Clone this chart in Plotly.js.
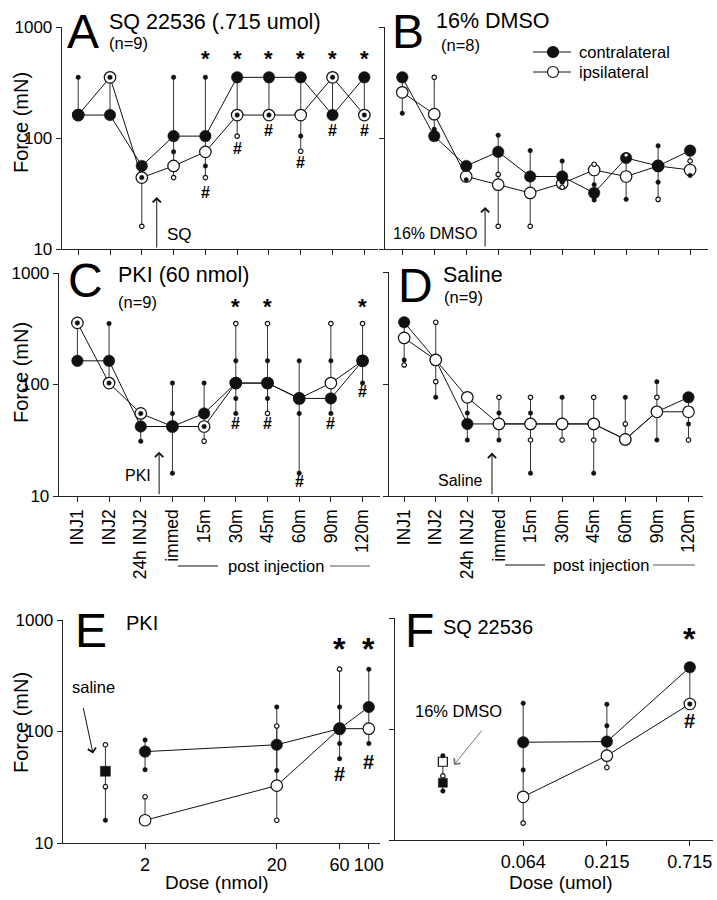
<!DOCTYPE html>
<html><head><meta charset="utf-8">
<script src="https://cdn.plot.ly/plotly-3.0.1.min.js"></script>
<style>body{margin:0;background:#fff}#chart{width:717px;height:900px}</style>
</head><body><div id="chart"></div>
<script>
// ---------------- DATA ----------------
const categories = ['INJ1','INJ2','24h INJ2','immed','15m','30m','45m','60m','90m','120m'];

// Panel A: SQ 22536 (.715 umol)
const contraA = [161,161,56,104,104,352,352,352,161,352];
const ipsiA   = [161,352,44,56,75,161,161,161,352,161];
const filledDotsA = [[0,352],[1,352],[2,44],[3,352],[3,75],[4,352],[4,56],[5,161],[6,161],[7,104],[8,352],[9,161]];
const openDotsA   = [[2,16],[3,44],[4,44],[5,104],[7,76]];
const starsA = [4,5,6,7,8,9];
const hashA  = [[4,32],[5,81],[6,118],[7,60],[8,118],[9,118]];

// Panel B: 16% DMSO
const contraB = [352,104,56,75,45,45,32,66,56,77];
const ipsiB   = [258,164,45,38,32,39,51.5,45,56,51.5];
const filledDotsB = [[0,167],[1,120],[2,42],[3,106],[4,77],[5,62],[5,40],[6,38],[6,27.6],[7,28],[8,85],[8,40],[9,46]];
const openDotsB   = [[1,352],[3,47],[3,16],[4,16],[5,36],[6,58],[7,70],[8,28],[9,62]];

// Panel C: PKI (60 nmol)
const contraC = [163,163,42,42,55,103,103,75,75,163];
const ipsiC   = [357,103,55,42,42,103,103,75,103,163];
const filledDotsC = [[0,357],[1,352],[1,103],[2,55],[2,31],[3,103],[3,55],[3,16],[4,103],[4,42],[5,163],[5,75],[5,55],[6,163],[6,75],[7,163],[7,55],[7,16],[8,163],[8,55],[9,103]];
const openDotsC   = [[4,31],[5,352],[6,352],[6,55],[8,352],[9,352]];
const starsC = [5,6,9];
const hashC  = [[5,45],[6,45],[7,13.5],[8,45],[9,86]];

// Panel D: Saline
const contraD = [356,164,44,44,44,44,44,32,56.5,76];
const ipsiD   = [258,164,76,44,44,44,44,32,56.5,56.5];
const filledDotsD = [[0,164],[1,76],[2,55],[2,31.6],[3,55],[3,31.6],[4,55],[4,16],[5,76],[6,16],[7,76],[8,105],[8,31.6],[9,44]];
const openDotsD   = [[0,148],[1,356],[1,105],[3,76],[4,76],[4,31.6],[5,31.6],[6,76],[6,31.6],[7,44],[8,76],[9,31.6]];

// Panel E: PKI dose response (nmol)
const dosesE  = [2,20,60,100];
const contraE = [66,76,106,166];
const ipsiE   = [16,32.7,106,106];
const filledDotsE = [[0,84],[0,45.5],[1,166],[1,44.6],[2,166],[2,78],[2,57],[3,362],[3,78]];
const openDotsE   = [[0,26],[1,112],[1,16],[2,362]];
const salineDoseE = [1];
const salineE     = [44];
const salineFilledDotsE = [[0,16]];
const salineOpenDotsE   = [[0,76],[0,32]];
const starsE = [60,100];
const hashE  = [[60,42],[100,53]];

// Panel F: SQ 22536 dose response (umol)
const dosesF  = [0.064,0.215,0.715];
const contraF = [76,77,360];
const ipsiF   = [24.5,57.5,168];
const filledDotsF = [[0,171],[0,42.8],[1,167],[1,107],[2,168]];
const openDotsF   = [[0,14.2],[1,45]];
const dmsoDoseF   = [0.02];
const dmsoContraF = [32.8];
const dmsoIpsiF   = [50.7];
const dmsoFilledDotsF = [[0,57.5],[0,27.6]];
const dmsoOpenDotsF   = [[0,37.8]];
const starsF = [0.715];
const hashF  = [[0.715,119]];

// ---------------- HELPERS ----------------
const FONT = 'Liberation Sans, Arial, Helvetica, sans-serif';
const W = 717, H = 900;
const PX = p => p / W, PY = p => 1 - p / H;
const INK = '#111';
const L10 = Math.log10;

function combinedWhiskers(xv, seriesArrs, dotLists) {
  const X = [], Y = [];
  xv.forEach((x, i) => {
    const vals = seriesArrs.map(s => s[i]).filter(v => v != null);
    dotLists.forEach(dl => dl.forEach(([j, v]) => { if (j === i) vals.push(v); }));
    const lo = Math.min(...vals), hi = Math.max(...vals);
    if (hi > lo) { X.push(x, x, null); Y.push(lo, hi, null); }
  });
  return {X, Y};
}
function mergeW(a, b) { return {X: a.X.concat(b.X), Y: a.Y.concat(b.Y)}; }

function lineTrace(xa, ya, x, y, color, width) {
  return {type:'scatter', mode:'lines', xaxis:xa, yaxis:ya, x, y, line:{color:color||INK, width:width||1}, hoverinfo:'skip', connectgaps:false, cliponaxis:false};
}
function markTrace(xa, ya, x, y, filled, size, symbol) {
  return {type:'scatter', mode:'markers', xaxis:xa, yaxis:ya, x, y, cliponaxis:false, hoverinfo:'skip',
    marker:{symbol:symbol||'circle', size:size||11.5, color: filled ? INK : '#fff', line:{color:INK, width: filled ? 0.5 : 1.2}}};
}
function dotTrace(xa, ya, xv, dots, filled) {
  return markTrace(xa, ya, dots.map(d => xv[d[0]]), dots.map(d => d[1]), filled, 4.5);
}

const traces = [];
function timePanel(xa, ya, contra, ipsi, fd, od, ipsiOnTop) {
  const xv = categories;
  const w = combinedWhiskers(xv, [contra, ipsi], [fd, od]);
  traces.push(lineTrace(xa, ya, w.X, w.Y, '#333', 1));
  traces.push(lineTrace(xa, ya, xv, contra));
  traces.push(lineTrace(xa, ya, xv, ipsi));
  if (ipsiOnTop) {
    traces.push(markTrace(xa, ya, xv, contra, true));
    traces.push(markTrace(xa, ya, xv, ipsi, false));
  } else {
    traces.push(markTrace(xa, ya, xv, ipsi, false));
    traces.push(markTrace(xa, ya, xv, contra, true));
  }
  traces.push(dotTrace(xa, ya, xv, fd, true));
  traces.push(dotTrace(xa, ya, xv, od, false));
}
timePanel('x','y', contraA, ipsiA, filledDotsA, openDotsA, false);
timePanel('x2','y2', contraB, ipsiB, filledDotsB, openDotsB, false);
timePanel('x3','y3', contraC, ipsiC, filledDotsC, openDotsC, false);
timePanel('x4','y4', contraD, ipsiD, filledDotsD, openDotsD, true);

// Panel E
(function(){
  const xa='x5', ya='y5';
  let w = combinedWhiskers(dosesE, [contraE], [filledDotsE]);
  w = mergeW(w, combinedWhiskers(dosesE, [ipsiE], [openDotsE]));
  w = mergeW(w, combinedWhiskers(salineDoseE, [salineE], [salineFilledDotsE, salineOpenDotsE]));
  traces.push(lineTrace(xa, ya, w.X, w.Y, '#333', 1));
  traces.push(lineTrace(xa, ya, dosesE, contraE));
  traces.push(lineTrace(xa, ya, dosesE, ipsiE));
  traces.push(markTrace(xa, ya, dosesE, ipsiE, false));
  traces.push(markTrace(xa, ya, dosesE, contraE, true));
  traces.push(markTrace(xa, ya, salineDoseE, salineE, true, 10, 'square'));
  traces.push(dotTrace(xa, ya, dosesE, filledDotsE, true));
  traces.push(dotTrace(xa, ya, dosesE, openDotsE, false));
  traces.push(dotTrace(xa, ya, salineDoseE, salineFilledDotsE, true));
  traces.push(dotTrace(xa, ya, salineDoseE, salineOpenDotsE, false));
})();
// Panel F
(function(){
  const xa='x6', ya='y6';
  let w = combinedWhiskers(dosesF, [contraF, ipsiF], [filledDotsF, openDotsF]);
  w = mergeW(w, combinedWhiskers(dmsoDoseF, [dmsoContraF, dmsoIpsiF], [dmsoFilledDotsF, dmsoOpenDotsF]));
  traces.push(lineTrace(xa, ya, w.X, w.Y, '#333', 1));
  traces.push(lineTrace(xa, ya, dosesF, contraF));
  traces.push(lineTrace(xa, ya, dosesF, ipsiF));
  traces.push(markTrace(xa, ya, dosesF, ipsiF, false));
  traces.push(markTrace(xa, ya, dosesF, contraF, true));
  traces.push(markTrace(xa, ya, dmsoDoseF, dmsoContraF, true, 9, 'square'));
  traces.push(markTrace(xa, ya, dmsoDoseF, dmsoIpsiF, false, 9, 'square'));
  traces.push(dotTrace(xa, ya, dosesF, filledDotsF, true));
  traces.push(dotTrace(xa, ya, dosesF, openDotsF, false));
  traces.push(dotTrace(xa, ya, dmsoDoseF, dmsoFilledDotsF, true));
  traces.push(dotTrace(xa, ya, dmsoDoseF, dmsoOpenDotsF, false));
})();

// ---------------- AXES ----------------
const baseAx = {showline:true, linecolor:'#222', linewidth:1.3, ticks:'outside', ticklen:5, tickwidth:1, tickcolor:'#222',
  showgrid:false, zeroline:false, fixedrange:true};
function catAx(p, range, anchor, labels) {
  return Object.assign({}, baseAx, {type:'category', categoryorder:'array', categoryarray:categories,
    domain:[PX(p[0]), PX(p[1])], range, anchor, showticklabels:labels, tickangle:-90,
    tickfont:{family:FONT, size:17.5, color:'#000'}});
}
function logY(p, anchor, labels) {
  return Object.assign({}, baseAx, {type:'log', range:[1,3], domain:[PY(p[1]), PY(p[0])], anchor,
    tickmode:'array', tickvals:[10,100,1000], ticktext:['10','100','1000'], showticklabels:labels,
    tickfont:{family:FONT, size:17, color:'#000'}});
}

const ann = [];
function txt(x, y, text, size, o) {
  ann.push(Object.assign({xref:'paper', yref:'paper', x:PX(x), y:PY(y), text, showarrow:false,
    xanchor:'left', yanchor:'middle', font:{family:FONT, size, color:'#000'}}, o||{}));
}
function atxt(xr, yr, x, yv, text, size, o) {
  ann.push(Object.assign({xref:xr, yref:yr, x, y:L10(yv), text, showarrow:false,
    xanchor:'center', yanchor:'middle', font:{family:FONT, size, color:'#000'}}, o||{}));
}
function arrow(xr, yr, x, yv, ax, ay, color) {
  ann.push({xref:xr, yref:yr, x, y:L10(yv), text:'', showarrow:true, ax, ay, axref:'pixel', ayref:'pixel',
    arrowhead:4, arrowsize:1.6, arrowwidth:1, arrowcolor:color||'#111', standoff:0, startstandoff:0});
}

// panel letters and titles
txt(65, 31, 'A', 48); txt(107, 22, 'SQ 22536 (.715 umol)', 21.5); txt(107, 43, '(n=9)', 16.5);
txt(390, 31, 'B', 48); txt(434, 21, '16% DMSO', 21.5); txt(439, 45, '(n=8)', 16.5);
txt(66, 280, 'C', 48); txt(116, 275, 'PKI (60 nmol)', 21.5); txt(116, 302, '(n=9)', 16.5);
txt(396, 286, 'D', 48); txt(441, 275, 'Saline', 21.5); txt(442, 297, '(n=9)', 16.5);
txt(73, 630, 'E', 48); txt(124, 623, 'PKI', 20);
txt(403, 630, 'F', 48); txt(441, 627, 'SQ 22536', 20);

// y titles
[[123],[373],[723]].forEach(([y]) => txt(21, y, 'Force (mN)', 20, {xanchor:'center', textangle:-90}));
// x titles E/F
txt(216, 882, 'Dose (nmol)', 19, {xanchor:'center'});
txt(560, 882, 'Dose (umol)', 19, {xanchor:'center'});

// legend (panel B)
txt(577, 52, 'contralateral', 16.5);
txt(577, 72, 'ipsilateral', 16.5);
// post injection
txt(276, 566, 'post injection', 16.5, {xanchor:'center'});
txt(601, 565, 'post injection', 16.5, {xanchor:'center'});

// arrows and labels
arrow('x','y', 2.47, 29.4, 0, 52);
txt(179, 235, 'SQ', 17, {xanchor:'center'});
arrow('x2','y2', 2.59, 23.9, 0, 41);
txt(435, 233, '16% DMSO', 16, {xanchor:'center'});
arrow('x3','y3', 2.58, 25, 0, 44);
txt(138, 475, 'PKI', 16, {xanchor:'center'});
arrow('x4','y4', 2.78, 24.4, 0, 43);
txt(460, 480, 'Saline', 16, {xanchor:'center'});
ann.push({xref:'x5', yref:'y5', x:-0.094, y:1.802, text:'', showarrow:true, ax:-10, ay:-47, axref:'pixel', ayref:'pixel', arrowhead:4, arrowsize:1.6, arrowwidth:1, arrowcolor:'#111'});
txt(93, 687, 'saline', 16.5, {xanchor:'center'});
ann.push({xref:'x6', yref:'y6', x:-1.629, y:1.676, text:'', showarrow:true, ax:29, ay:-36, axref:'pixel', ayref:'pixel', arrowhead:4, arrowsize:1.6, arrowwidth:1, arrowcolor:'#777'});
txt(458, 711, '16% DMSO', 16.5, {xanchor:'center'});

// stars and hashes
starsA.forEach(i => atxt('x','y', i, 519, '<b>*</b>', 22));
hashA.forEach(([i,v]) => atxt('x','y', i, v, '<b>#</b>', 16));
starsC.forEach(i => atxt('x3','y3', i, 501, '<b>*</b>', 22));
hashC.forEach(([i,v]) => atxt('x3','y3', i, v, '<b>#</b>', 16));
starsE.forEach(d => atxt('x5','y5', L10(d), 552, '<b>*</b>', 32));
hashE.forEach(([d,v]) => atxt('x5','y5', L10(d), v, '<b>#</b>', 20));
starsF.forEach(d => atxt('x6','y6', L10(d), 652, '<b>*</b>', 32));
hashF.forEach(([d,v]) => atxt('x6','y6', L10(d), v, '<b>#</b>', 20));

// shapes: legend markers and post-injection rules
const shapes = [];
function hline(x0, x1, y, color) {
  shapes.push({type:'line', xref:'paper', yref:'paper', x0:PX(x0), x1:PX(x1), y0:PY(y), y1:PY(y), line:{color:color||'#111', width:1}});
}
hline(533, 571, 52); hline(533, 571, 72);
function circ(cx, cy, r, filled) {
  shapes.push({type:'circle', xref:'paper', yref:'paper', x0:PX(cx-r), x1:PX(cx+r), y0:PY(cy+r), y1:PY(cy-r),
    fillcolor: filled ? '#111' : '#fff', line:{color:'#111', width:1.2}});
}
circ(553, 52, 5.5, true); circ(553, 72, 5.5, false);
hline(178, 218, 566); hline(330, 370, 566, '#555');
hline(505, 545, 565); hline(653, 695, 565, '#555');

const layout = {
  width:W, height:H, margin:{l:0, r:0, t:0, b:0}, paper_bgcolor:'#fff', plot_bgcolor:'rgba(0,0,0,0)',
  showlegend:false, font:{family:FONT, color:'#000'},
  xaxis:  catAx([62,378], [-0.51,9.43], 'y', false),
  yaxis:  logY([27,249], 'x', true),
  xaxis2: catAx([385,708], [-0.54,9.56], 'y2', false),
  yaxis2: logY([27,249], 'x2', false),
  xaxis3: catAx([59,380], [-0.58,9.55], 'y3', true),
  yaxis3: logY([273,496], 'x3', true),
  xaxis4: catAx([389,703], [-0.48,9.46], 'y4', true),
  yaxis4: logY([272,496], 'x4', false),
  xaxis5: Object.assign({}, baseAx, {type:'log', domain:[PX(63), PX(380)], range:[-0.322, 2.085], anchor:'y5',
    tickmode:'array', tickvals:dosesE, ticktext:dosesE.map(String), tickfont:{family:FONT, size:18, color:'#000'}}),
  yaxis5: logY([620,843], 'x5', true),
  xaxis6: Object.assign({}, baseAx, {type:'log', domain:[PX(395), PX(713)], range:[-2, 0], anchor:'y6',
    tickmode:'array', tickvals:dosesF, ticktext:dosesF.map(String), tickfont:{family:FONT, size:18, color:'#000'}}),
  yaxis6: logY([618,840], 'x6', false),
  annotations: ann, shapes
};
Plotly.newPlot('chart', traces, layout, {staticPlot:true, displayModeBar:false});
</script></body></html>
